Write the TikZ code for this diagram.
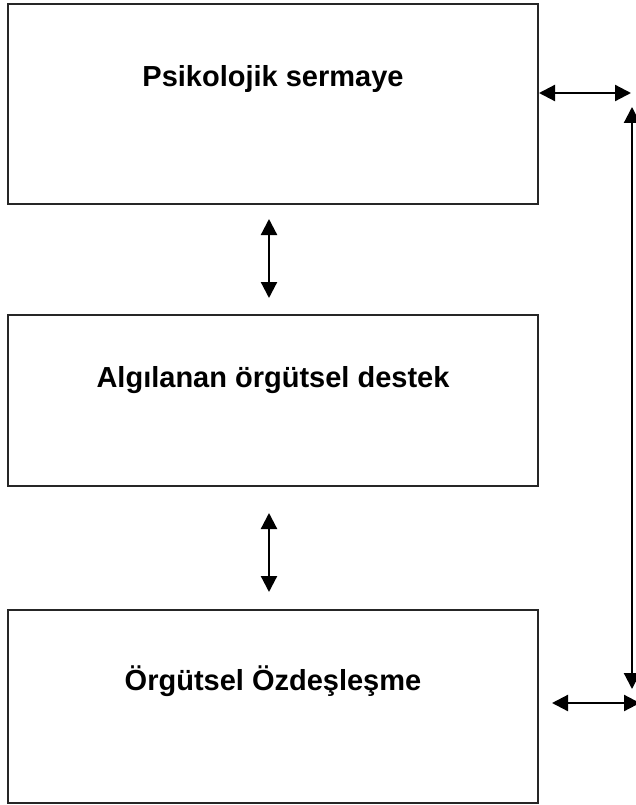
\documentclass[tikz,border=0pt]{standalone}
\usepackage{fontspec}
\setmainfont{Liberation Sans}
\usetikzlibrary{arrows.meta}
\begin{document}
\begin{tikzpicture}[x=1pt,y=-1pt,
  boxstyle/.style={draw=black!85, line width=1.4pt, fill=white, rectangle, inner sep=0pt},
  labelstyle/.style={font=\fontsize{29}{34}\selectfont\bfseries, anchor=base, inner sep=0pt},
  dblarrow/.style={line width=2.2pt, {Triangle[length=16pt,width=16pt]}-{Triangle[length=16pt,width=16pt]}}
]
\useasboundingbox (0,0) rectangle (636,805);
% boxes
\node[boxstyle, minimum width=530pt, minimum height=200pt] (b1) at (273,104) {};
\node[boxstyle, minimum width=530pt, minimum height=171pt] (b2) at (273,400.5) {};
\node[boxstyle, minimum width=530pt, minimum height=193pt] (b3) at (273,706.5) {};
% labels
\node[labelstyle] (t1) at (273,87) {Psikolojik sermaye};
\node[labelstyle] (t2) at (273,387) {Algılanan örgütsel destek};
\node[labelstyle] (t3) at (273,690) {Örgütsel Özdeşleşme};
% arrow end points
\coordinate (a1t) at (269,219);
\coordinate (a1b) at (269,298);
\coordinate (a2t) at (269,513);
\coordinate (a2b) at (269,592);
\coordinate (r1l) at (539,93);
\coordinate (r1r) at (631,93);
\coordinate (vt) at (632,107);
\coordinate (vb) at (632,689);
\coordinate (r3l) at (552,703);
\coordinate (r3r) at (640,703);
% connectors
\draw[dblarrow] (a1t) -- (a1b);
\draw[dblarrow] (a2t) -- (a2b);
\draw[dblarrow] (r1l) -- (r1r);
\draw[dblarrow] (vt) -- (vb);
\draw[dblarrow] (r3l) -- (r3r);
\end{tikzpicture}
\end{document}
